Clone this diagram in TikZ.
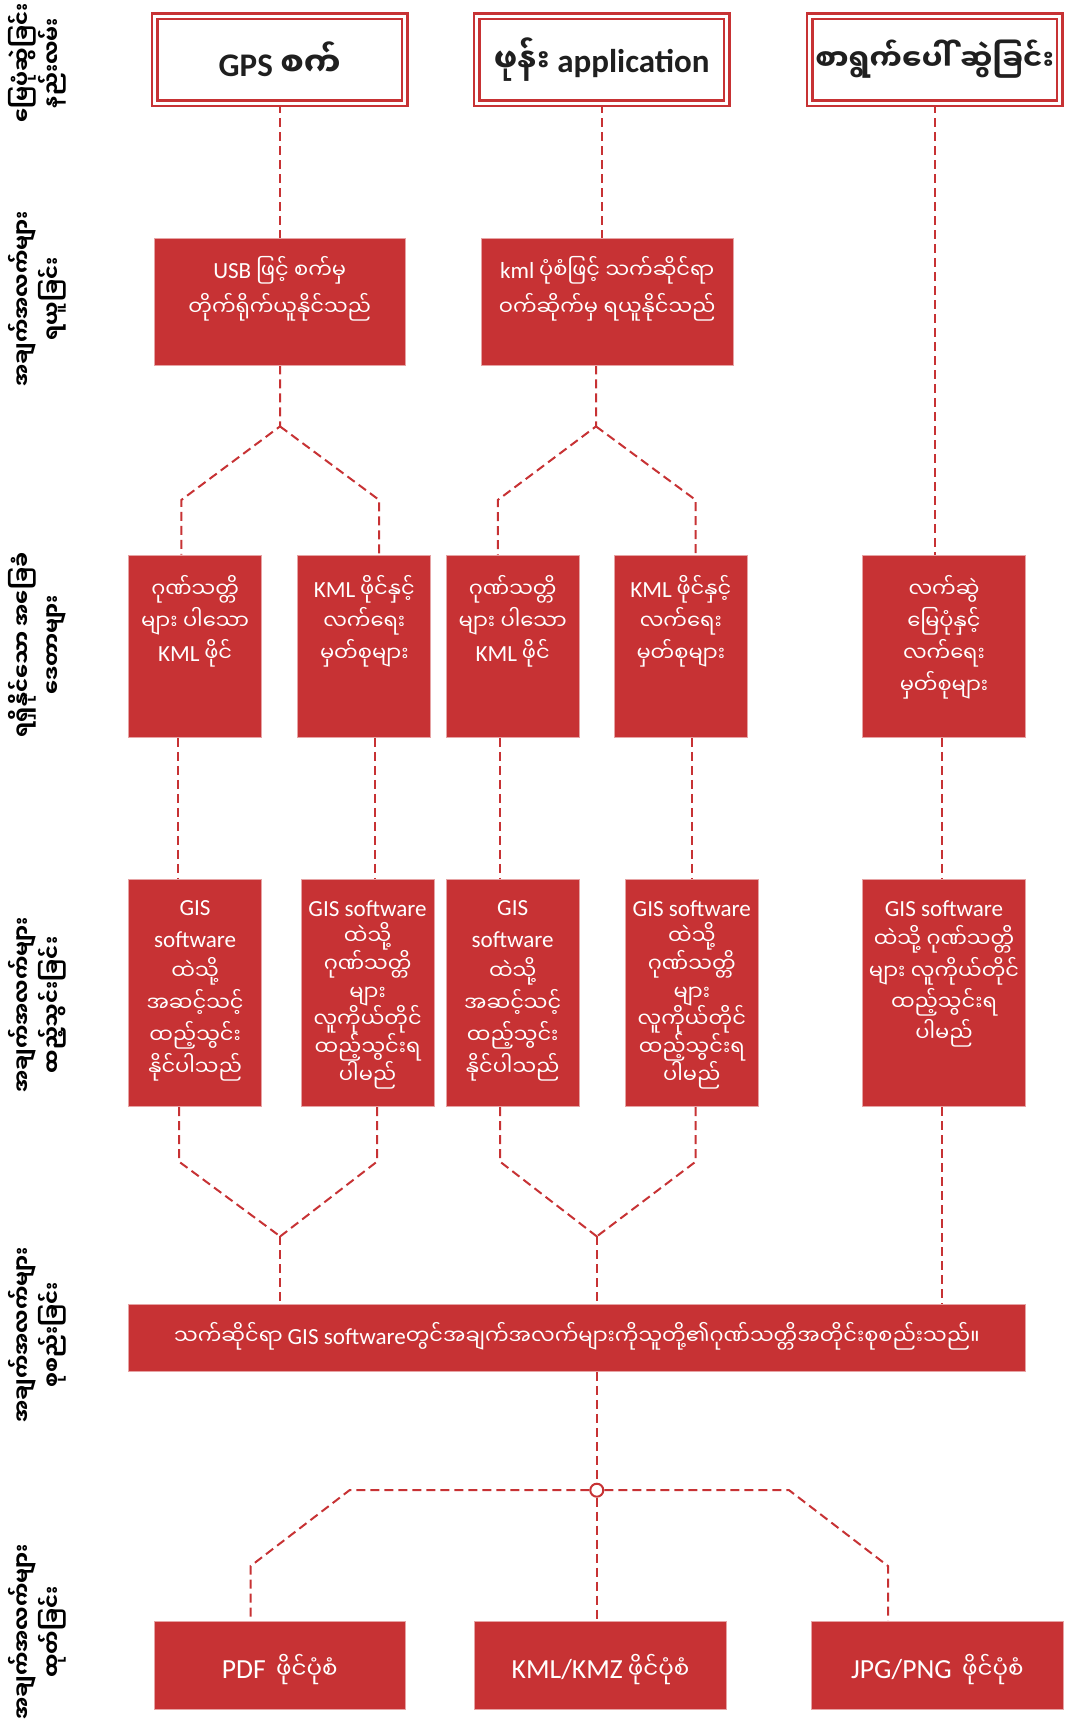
\documentclass[tikz,border=0pt]{standalone}
\usepackage{fontspec}
\setmainfont{Carlito}
\newfontfamily\my[Script=Myanmar]{Noto Sans Myanmar UI}
\newcommand\mya[1]{{\my #1}}
\makeatletter
\newcommand\la[2][1.1]{{\fontsize{\fpeval{\f@size*#1}}{\f@baselineskip}\selectfont #2}}
\makeatother
\usetikzlibrary{backgrounds}
\definecolor{rd}{RGB}{199,50,52}
\begin{document}
\begin{tikzpicture}[x=1pt,y=-1pt,
  dl/.style={draw=rd, line width=2pt, dash pattern=on 9pt off 5pt},
  topbox/.style={draw=rd, double=white, double distance=3pt, line width=2.6pt,
    minimum width=250pt, minimum height=87pt, inner sep=0pt, text=black!88,
    font=\bfseries\fontsize{33}{40}\selectfont},
  redbox/.style={fill=rd, draw=rd!45!white, line width=0.8pt, inner sep=0pt},
  wtxt/.style={text=white, align=center, inner sep=0pt, font=\fontsize{21}{32}\selectfont},
  lbl/.style={rotate=90, align=center, inner sep=0pt, text=black,
    font=\bfseries\fontsize{21}{30}\selectfont}
]
\useasboundingbox (0,0) rectangle (1065,1724);

% ---- left labels
\node[lbl] (L1) at (37,63) {\mya{မြေပုံဆွဲခြင်း}\\\mya{နည်းလမ်း}};
\node[lbl] (L2) at (37,299) {\mya{အချက်အလက်များ}\\\mya{ရယူခြင်း}};
\node[lbl] (L3) at (37,645) {\mya{ရရှိနိုင်သော အခြေခံ}\\\mya{ဒေတာများ}};
\node[lbl] (L4) at (37,1005) {\mya{အချက်အလက်များ}\\\mya{ထည့်သွင်းခြင်း}};
\node[lbl] (L5) at (37,1335) {\mya{အချက်အလက်များ}\\\mya{စုစည်းခြင်း}};
\node[lbl] (L6) at (37,1632) {\mya{အချက်အလက်များ}\\\mya{ထုတ်ခြင်း}};

% ---- top boxes
\node[topbox] (tA) at (279.7,59.5) {GPS \mya{စက်}};
\node[topbox] (tB) at (601.7,59.5) {\mya{ဖုန်း} application};
\node[topbox, font=\bfseries\fontsize{29}{36}\selectfont] (tC) at (934.7,59.5) {\mya{စာရွက်ပေါ် ဆွဲခြင်း}};

% ---- row 2
\node[redbox, minimum width=251.6pt, minimum height=126.4pt] (gA) at (279.7,301.7) {};
\node[redbox, minimum width=251.6pt, minimum height=126.4pt] (gB) at (607.2,301.7) {};
\node[wtxt, font=\fontsize{21}{37}\selectfont] (gAt) at (279.7,289) {\la{USB} \mya{ဖြင့် စက်မှ}\\\mya{တိုက်ရိုက်ယူနိုင်သည်}};
\node[wtxt, font=\fontsize{21}{37}\selectfont] (gBt) at (607.2,289) {\la{kml} \mya{ပုံစံဖြင့် သက်ဆိုင်ရာ}\\\mya{ဝက်ဆိုက်မှ ရယူနိုင်သည်}};

% ---- row 3
\tikzset{r3/.style={redbox, minimum width=133pt, minimum height=182.4pt}}
\node[r3] (b1) at (195.1,646.2) {};
\node[r3] (b2) at (364.3,646.2) {};
\node[r3] (b3) at (512.7,646.2) {};
\node[r3] (b4) at (680.8,646.2) {};
\node[r3, minimum width=162.7pt] (b5) at (944,646.2) {};
\node[wtxt] (b1t) at (195.1,621) {\mya{ဂုဏ်သတ္တိ}\\\mya{များ ပါသော}\\\la{KML} \mya{ဖိုင်}};
\node[wtxt] (b2t) at (364.3,621) {\la{KML} \mya{ဖိုင်နှင့်}\\\mya{လက်ရေး}\\\mya{မှတ်စုများ}};
\node[wtxt] (b3t) at (512.7,621) {\mya{ဂုဏ်သတ္တိ}\\\mya{များ ပါသော}\\\la{KML} \mya{ဖိုင်}};
\node[wtxt] (b4t) at (680.8,621) {\la{KML} \mya{ဖိုင်နှင့်}\\\mya{လက်ရေး}\\\mya{မှတ်စုများ}};
\node[wtxt] (b5t) at (944,637.5) {\mya{လက်ဆွဲ}\\\mya{မြေပုံနှင့်}\\\mya{လက်ရေး}\\\mya{မှတ်စုများ}};

% ---- row 4
\tikzset{r4/.style={redbox, minimum width=133pt, minimum height=227.5pt}}
\node[r4] (c1) at (195.1,993) {};
\node[r4] (c2) at (367.6,993) {};
\node[r4] (c3) at (512.7,993) {};
\node[r4] (c4) at (691.8,993) {};
\node[r4, minimum width=162.7pt] (c5) at (944,993) {};
\node[wtxt] (c1t) at (195.1,991) {\la{GIS}\\\la{software}\\\mya{ထဲသို့}\\\mya{အဆင့်သင့်}\\\mya{ထည့်သွင်း}\\\mya{နိုင်ပါသည်}};
\node[wtxt, font=\fontsize{21}{27.8}\selectfont] (c2t) at (367.6,995) {\la{GIS software}\\\mya{ထဲသို့}\\\mya{ဂုဏ်သတ္တိ}\\\mya{များ}\\\mya{လူကိုယ်တိုင်}\\\mya{ထည့်သွင်းရ}\\\mya{ပါမည်}};
\node[wtxt] (c3t) at (512.7,991) {\la{GIS}\\\la{software}\\\mya{ထဲသို့}\\\mya{အဆင့်သင့်}\\\mya{ထည့်သွင်း}\\\mya{နိုင်ပါသည်}};
\node[wtxt, font=\fontsize{21}{27.8}\selectfont] (c4t) at (691.8,995) {\la{GIS software}\\\mya{ထဲသို့}\\\mya{ဂုဏ်သတ္တိ}\\\mya{များ}\\\mya{လူကိုယ်တိုင်}\\\mya{ထည့်သွင်းရ}\\\mya{ပါမည်}};
\node[wtxt, font=\fontsize{21}{31.3}\selectfont] (c5t) at (944,974) {\la{GIS software}\\\mya{ထဲသို့ ဂုဏ်သတ္တိ}\\\mya{များ လူကိုယ်တိုင်}\\\mya{ထည့်သွင်းရ}\\\mya{ပါမည်}};

% ---- row 5
\node[redbox, minimum width=896.8pt, minimum height=67.1pt] (org) at (577,1338) {};
\node[wtxt] (orgt) at (577,1336) {\mya{သက်ဆိုင်ရာ} \la{GIS software}\mya{တွင်အချက်အလက်များကိုသူတို့၏ဂုဏ်သတ္တိအတိုင်းစုစည်းသည်။}};

% ---- row 6
\tikzset{r6/.style={redbox, minimum width=251.6pt, minimum height=88pt}}
\node[r6] (o1) at (279.7,1665) {};
\node[r6] (o2) at (600.6,1665) {};
\node[r6] (o3) at (937.4,1665) {};
\node[wtxt, font=\fontsize{23}{30}\selectfont] (o1t) at (279.7,1670) {\la[1.2]{PDF}\ \ \mya{ဖိုင်ပုံစံ}};
\node[wtxt, font=\fontsize{23}{30}\selectfont] (o2t) at (600.6,1670) {\la[1.2]{KML/KMZ} \mya{ဖိုင်ပုံစံ}};
\node[wtxt, font=\fontsize{23}{30}\selectfont] (o3t) at (937.4,1670) {\la[1.2]{JPG/PNG}\ \ \mya{ဖိုင်ပုံစံ}};

% ---- junction circle
\node[circle, draw=rd, fill=white, line width=2pt, minimum size=13pt, inner sep=0pt] (ci) at (596.8,1490.2) {};

% ---- coordinates
\coordinate (jA) at (280,426.4);
\coordinate (jA1) at (181.3,500);
\coordinate (jA2) at (379.2,500);
\coordinate (jB) at (596,426.4);
\coordinate (jB1) at (497.8,500);
\coordinate (jB2) at (695.7,500);
\coordinate (v1) at (178,0);
\coordinate (v2) at (375,0);
\coordinate (v3) at (500,0);
\coordinate (v4) at (692,0);
\coordinate (v5) at (942,0);
\coordinate (k1) at (179,1161.6);
\coordinate (k2) at (377,1161.6);
\coordinate (m1) at (280.2,1236.4);
\coordinate (k3) at (500,1161.6);
\coordinate (k4) at (695.7,1161.6);
\coordinate (m2) at (596.8,1236.4);
\coordinate (hl) at (349.5,1490.2);
\coordinate (hr) at (789.1,1490.2);
\coordinate (dL) at (250.6,1566);
\coordinate (dR) at (888,1566);

\begin{pgfonlayer}{background}
\draw[dl] (tA.south) -- (tA.south |- gA.north);
\draw[dl] (tB.south) -- (tB.south |- gB.north);
\draw[dl] (tC.south) -- (tC.south |- b5.north);
\draw[dl] (jA |- gA.south) -- (jA) -- (jA1) -- (jA1 |- b1.north);
\draw[dl] (jA) -- (jA2) -- (jA2 |- b2.north);
\draw[dl] (jB |- gB.south) -- (jB) -- (jB1) -- (jB1 |- b3.north);
\draw[dl] (jB) -- (jB2) -- (jB2 |- b4.north);
\draw[dl] (v1 |- b1.south) -- (v1 |- c1.north);
\draw[dl] (v2 |- b2.south) -- (v2 |- c2.north);
\draw[dl] (v3 |- b3.south) -- (v3 |- c3.north);
\draw[dl] (v4 |- b4.south) -- (v4 |- c4.north);
\draw[dl] (v5 |- b5.south) -- (v5 |- c5.north);
\draw[dl] (k1 |- c1.south) -- (k1) -- (m1);
\draw[dl] (k2 |- c2.south) -- (k2) -- (m1);
\draw[dl] (m1) -- (m1 |- org.north);
\draw[dl] (k3 |- c3.south) -- (k3) -- (m2);
\draw[dl] (k4 |- c4.south) -- (k4) -- (m2);
\draw[dl] (m2) -- (m2 |- org.north);
\draw[dl] (v5 |- c5.south) -- (v5 |- org.north);
\draw[dl] (ci |- org.south) -- (ci.north);
\draw[dl] (ci.south) -- (ci |- o2.north);
\draw[dl] (ci.west) -- (hl) -- (dL) -- (dL |- o1.north);
\draw[dl] (ci.east) -- (hr) -- (dR) -- (dR |- o3.north);
\end{pgfonlayer}
\end{tikzpicture}
\end{document}
